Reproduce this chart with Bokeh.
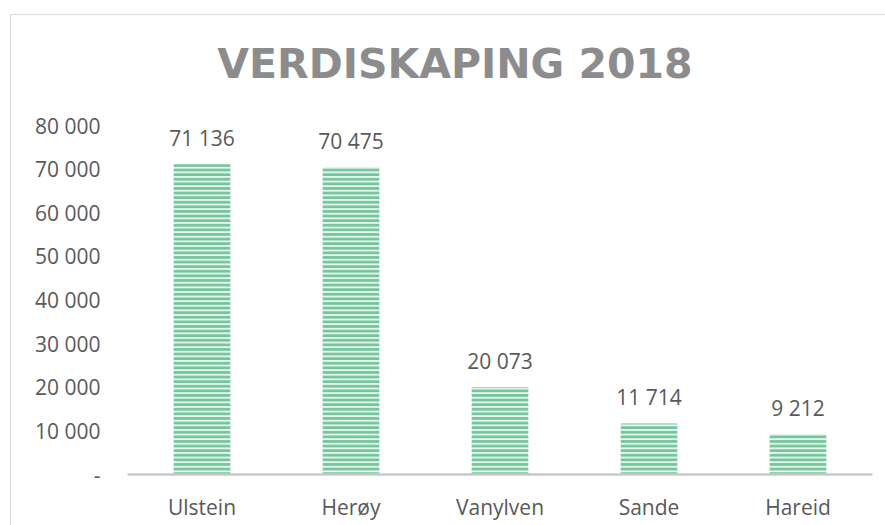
from bokeh.plotting import figure
from bokeh.models import ColumnDataSource, FixedTicker, LabelSet, FactorRange, Range1d
from bokeh.core.properties import value
from bokeh.embed import file_html
from bokeh.resources import INLINE

categories = ["Ulstein", "Herøy", "Vanylven", "Sande", "Hareid"]
values = [71136, 70475, 20073, 11714, 9212]
y_ticks = [0, 10000, 20000, 30000, 40000, 50000, 60000, 70000, 80000]
y_tick_labels = ["-", "10 000", "20 000", "30 000", "40 000", "50 000", "60 000", "70 000", "80 000"]
title_text = "VERDISKAPING 2018"

labels = [f"{v:,}".replace(",", " ") for v in values]
source = ColumnDataSource(data=dict(cat=categories, val=values, lab=labels))

TEXT = "#595959"
FONT = "Open Sans"

# layout: the value axis spans 349 px for 0..80 000; the frame is extended upward
# (without ticks) so that the title can sit inside it
AXIS_PX = 349
FRAME_PX = 444
Y_MAX = y_ticks[-1]
y_end = Y_MAX * FRAME_PX / AXIS_PX
title_y = Y_MAX * 411 / AXIS_PX

p = figure(x_range=FactorRange(*categories), y_range=Range1d(0, y_end),
           frame_width=745, frame_height=FRAME_PX,
           min_border_left=116, min_border_right=13, min_border_top=15, min_border_bottom=51,
           output_backend="svg", toolbar_location=None, tools="")
p.styles = {"margin-top": "14px", "margin-left": "10px",
            "border-top": "1px solid #dcdcdc", "border-left": "1px solid #dcdcdc"}
p.outline_line_color = None
p.background_fill_color = "white"
p.border_fill_color = "white"
p.grid.visible = False

p.vbar(x="cat", top="val", width=0.38, source=source,
       fill_color="#e4f5ec", line_color=None,
       hatch_pattern="horizontal_line", hatch_color="#74c59c",
       hatch_scale=4.6, hatch_weight=2.8)

p.add_layout(LabelSet(x="cat", y="val", text="lab", source=source,
                      text_align="center", text_baseline="bottom", y_offset=12,
                      text_font=value(FONT), text_font_size="21px", text_color=TEXT))

p.text(x=["Vanylven"], y=[title_y], text=[title_text], x_offset=-45,
       text_align="center", text_baseline="alphabetic",
       text_font=value("DejaVu Sans"), text_font_style="bold", text_font_size="41px",
       text_color="#8c8c8c")

p.yaxis.ticker = FixedTicker(ticks=y_ticks)
p.yaxis.major_label_overrides = dict(zip(y_ticks, y_tick_labels))
p.yaxis.axis_line_color = None
p.yaxis.major_tick_line_color = None
p.yaxis.minor_tick_line_color = None
p.yaxis.major_tick_out = 0
p.yaxis.major_label_standoff = 27
p.yaxis.major_label_text_font = FONT
p.yaxis.major_label_text_font_size = "21px"
p.yaxis.major_label_text_color = TEXT

p.xaxis.axis_line_color = "#c8c8c8"
p.xaxis.axis_line_width = 2.5
p.xaxis.major_tick_line_color = None
p.xaxis.minor_tick_line_color = None
p.xaxis.major_tick_out = 0
p.xaxis.major_label_standoff = 18
p.xaxis.major_label_text_font = FONT
p.xaxis.major_label_text_font_size = "21px"
p.xaxis.major_label_text_color = TEXT

open("out.html", "w").write(file_html(p, INLINE))
